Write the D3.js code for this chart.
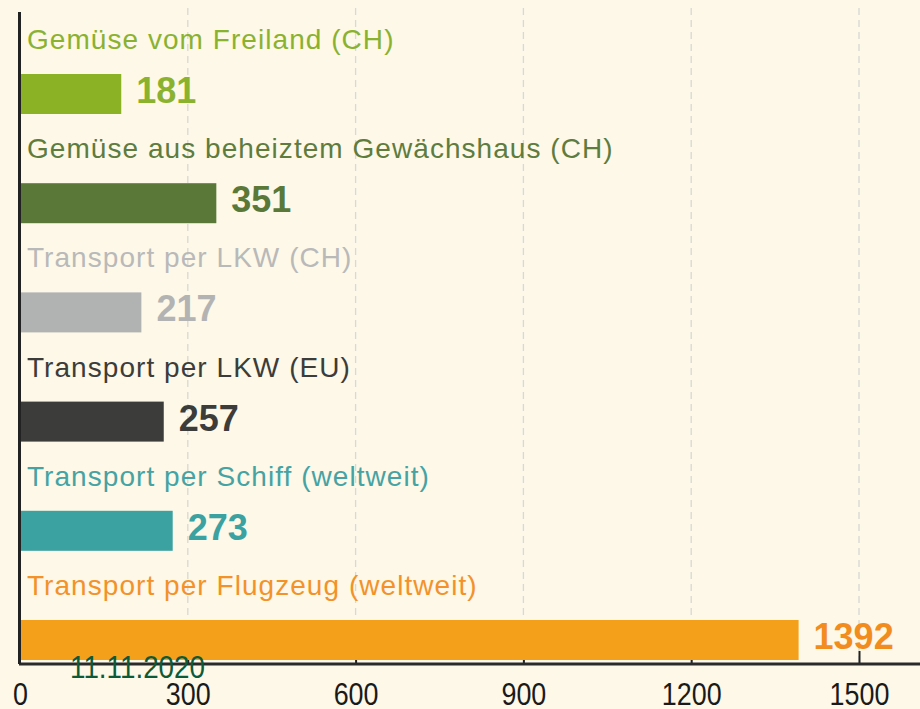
<!DOCTYPE html>
<html>
<head>
<meta charset="utf-8">
<script src="https://cdn.jsdelivr.net/npm/d3@7"></script>
<style>
html,body{margin:0;padding:0;background:#fdf8e8;}
svg{display:block;}
</style>
</head>
<body>
<svg id="chart" width="920" height="709"></svg>
<script>
const categories = [
  "Gemüse vom Freiland (CH)",
  "Gemüse aus beheiztem Gewächshaus (CH)",
  "Transport per LKW (CH)",
  "Transport per LKW (EU)",
  "Transport per Schiff (weltweit)",
  "Transport per Flugzeug (weltweit)"
];
const values = [181, 351, 217, 257, 273, 1392];
const barColors = ["#8bb225", "#5a7838", "#b1b2b2", "#3c3c3b", "#3ba1a1", "#f5a01a"];
const labelColors = ["#8bb22f", "#5e7c3e", "#b9b9b9", "#3c3c3b", "#45a3a3", "#f3922a"];
const valueColors = ["#8bb22f", "#5a7838", "#b3b3b3", "#3c3c3b", "#3ba1a1", "#f28c1e"];
const ticks = [0, 300, 600, 900, 1200, 1500];
const dateText = "11.11.2020";

const svg = d3.select("#chart");
const W = 920, H = 709;
svg.append("rect").attr("width", W).attr("height", H).attr("fill", "#fdf8e8");

const x = d3.scaleLinear().domain([0, 1500]).range([20, 859]);
const y = d3.scaleBand().domain(categories).range([30, 30 + 6 * 109.2]).padding(0);

const axisY = 664;

// gridlines (dashed)
svg.append("g").selectAll("line").data(ticks.slice(1)).join("line")
  .attr("x1", d => x(d)).attr("x2", d => x(d))
  .attr("y1", 8).attr("y2", axisY)
  .attr("stroke", "#d8d8d5").attr("stroke-width", 1.3)
  .attr("stroke-dasharray", "7,5");

// x axis
const axis = d3.axisBottom(x).tickValues(ticks).tickSize(0).tickPadding(0).tickFormat(d3.format("d"));
const gx = svg.append("g").attr("transform", `translate(0,${axisY})`).call(axis);
gx.select(".domain").remove();
gx.selectAll(".tick text")
  .attr("y", 41).attr("dy", 0)
  .attr("transform", "scale(0.84,1)")
  .attr("font-family", "Liberation Sans, Arial, sans-serif")
  .attr("font-size", 32)
  .attr("fill", "#1a1a1a");
gx.selectAll(".tick").filter(d => d > 0).append("line")
  .attr("y1", 0).attr("y2", -13).attr("stroke", "#222").attr("stroke-width", 2);

const rows = svg.append("g").selectAll("g").data(categories).join("g");

rows.append("text")
  .attr("x", 27).attr("y", d => y(d) + 19)
  .attr("font-family", "Liberation Sans, Arial, sans-serif")
  .attr("font-size", 28)
  .attr("letter-spacing", 1.05)
  .attr("fill", (d, i) => labelColors[i])
  .text(d => d);

rows.append("rect")
  .attr("x", x(0)).attr("y", d => y(d) + 44)
  .attr("width", (d, i) => x(values[i]) - x(0))
  .attr("height", 40)
  .attr("fill", (d, i) => barColors[i]);

rows.append("text")
  .attr("x", (d, i) => x(values[i]) + 15)
  .attr("y", d => y(d) + 73)
  .attr("font-family", "Liberation Sans, Arial, sans-serif")
  .attr("font-weight", "bold")
  .attr("font-size", 36)
  .attr("fill", (d, i) => valueColors[i])
  .text((d, i) => values[i]);

svg.append("line").attr("x1", 19).attr("x2", W).attr("y1", axisY).attr("y2", axisY)
  .attr("stroke", "#2a2a2a").attr("stroke-width", 3);
svg.append("line").attr("x1", 19.5).attr("x2", 19.5).attr("y1", 12).attr("y2", axisY)
  .attr("stroke", "#222").attr("stroke-width", 3);

svg.append("text").attr("x", 70).attr("y", 678)
  .attr("font-family", "Liberation Sans, Arial, sans-serif")
  .attr("font-size", 32).attr("fill", "#0d5a38")
  .attr("textLength", 135).attr("lengthAdjust", "spacingAndGlyphs")
  .text(dateText);
</script>
</body>
</html>
